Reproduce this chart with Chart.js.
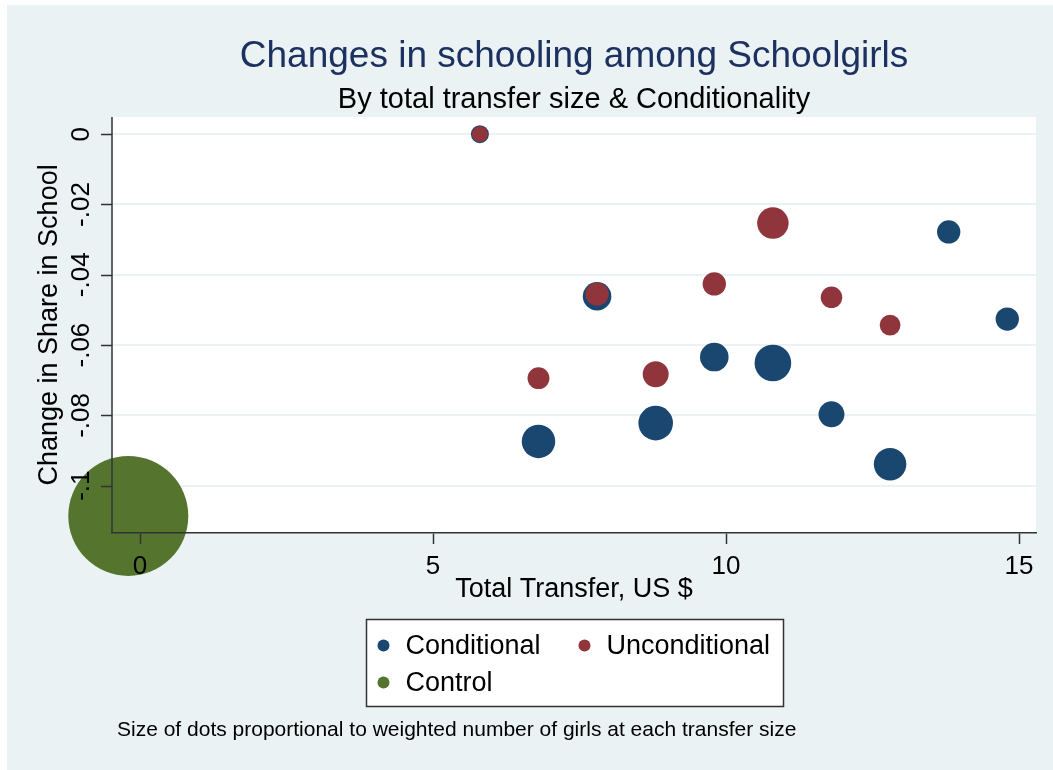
<!DOCTYPE html>
<html>
<head>
<meta charset="utf-8">
<script src="https://cdn.jsdelivr.net/npm/chart.js@4/dist/chart.umd.min.js"></script>
<style>
  body { margin: 0; background: #fff; }
  .chart-container { position: absolute; left: 7px; top: 5px; width: 1046px; height: 765px; background: #eaf2f3; }
</style>
</head>
<body>
<div class="chart-container">
  <canvas id="bubble-chart"></canvas>
</div>
<script>
  // values
  const condTransfer = [5.8, 6.8, 7.8, 8.8, 9.8, 10.8, 11.8, 12.8, 13.8, 14.8];
  const condChange = [0, -0.0874, -0.0461, -0.0822, -0.0634, -0.0651, -0.0797, -0.0939, -0.0278, -0.0526];
  const condGirls = [20, 70, 51, 75, 51, 84, 42, 66, 34, 34];

  const uncondTransfer = [5.8, 6.8, 7.8, 8.8, 9.8, 10.8, 11.8, 12.8];
  const uncondChange = [0, -0.0694, -0.0455, -0.0683, -0.0426, -0.0253, -0.0464, -0.0543];
  const uncondGirls = [16, 30, 34, 42, 34, 62, 29, 27];

  const controlTransfer = [-0.2];
  const controlChange = [-0.1086];
  const controlGirls = [900];

  const xTicks = [0, 5, 10, 15];
  const yTicks = [0, -0.02, -0.04, -0.06, -0.08, -0.1];

  const FONT = "'Liberation Sans', Arial, sans-serif";
  const AXIS = '#333';

  // dot area proportional to weight
  function bubbles(xs, ys, ws) {
    return xs.map((x, i) => ({ x: x, y: ys[i], r: 2 * Math.sqrt(ws[i]) }));
  }

  function yLabel(v) {
    if (v === 0) return '0';
    return String(v).replace('0.', '.');
  }

  const plotBackground = {
    id: 'plotBackground',
    beforeDraw(chart) {
      const { ctx, chartArea: a } = chart;
      ctx.save();
      ctx.fillStyle = '#fff';
      ctx.fillRect(a.left, a.top, a.right - a.left, a.bottom - a.top);
      ctx.restore();
    }
  };

  // y axis line, ticks and rotated labels, drawn over the dots
  const yAxisOverlay = {
    id: 'yAxisOverlay',
    afterDraw(chart) {
      const { ctx, chartArea: a } = chart;
      const y = chart.scales.y;
      ctx.save();
      ctx.strokeStyle = AXIS;
      ctx.lineWidth = 1.5;
      ctx.beginPath();
      ctx.moveTo(a.left, a.top);
      ctx.lineTo(a.left, a.bottom);
      yTicks.forEach(v => {
        const py = Math.round(y.getPixelForValue(v)) + 0.5;
        ctx.moveTo(a.left - 11, py);
        ctx.lineTo(a.left, py);
      });
      ctx.stroke();
      ctx.fillStyle = '#000';
      ctx.font = '26px ' + FONT;
      ctx.textAlign = 'center';
      ctx.textBaseline = 'middle';
      yTicks.forEach(v => {
        ctx.save();
        ctx.translate(a.left - 30, y.getPixelForValue(v));
        ctx.rotate(-Math.PI / 2);
        ctx.fillText(yLabel(v), 0, 0);
        ctx.restore();
      });
      ctx.restore();
    }
  };

  const legendBox = {
    id: 'legendBox',
    afterDraw(chart) {
      const { ctx, chartArea: a } = chart;
      const cx = (a.left + a.right) / 2;
      const left = Math.round(cx - 208.5) + 0.5;
      const top = Math.round(a.bottom + 86) + 0.5;
      ctx.save();
      ctx.fillStyle = '#fff';
      ctx.fillRect(left, top, 417, 87);
      ctx.strokeStyle = AXIS;
      ctx.lineWidth = 1.5;
      ctx.strokeRect(left, top, 417, 87);
      ctx.font = '27px ' + FONT;
      ctx.textBaseline = 'middle';
      chart.data.datasets.forEach((ds, i) => {
        const col = i % 2, row = Math.floor(i / 2);
        const dx = left + 17 + col * 201;
        const dy = top + 26 + row * 37;
        ctx.fillStyle = ds.backgroundColor;
        ctx.beginPath();
        ctx.arc(dx, dy, 6, 0, Math.PI * 2);
        ctx.fill();
        ctx.fillStyle = '#000';
        ctx.fillText(ds.label, dx + 22, dy + 1);
      });
      ctx.font = '21px ' + FONT;
      ctx.fillText('Size of dots proportional to weighted number of girls at each transfer size', a.left + 5, a.bottom + 197);
      ctx.restore();
    }
  };

  const data = {
    datasets: [
      { label: 'Conditional', data: bubbles(condTransfer, condChange, condGirls),
        backgroundColor: '#1a476f', borderWidth: 0, order: 1 },
      { label: 'Unconditional', data: bubbles(uncondTransfer, uncondChange, uncondGirls),
        backgroundColor: '#90353b', borderWidth: 0, order: 0 },
      { label: 'Control', data: bubbles(controlTransfer, controlChange, controlGirls),
        backgroundColor: '#55752f', borderWidth: 0, order: 2, clip: false }
    ]
  };

  const options = {
    responsive: true,
    maintainAspectRatio: false,
    animation: false,
    events: [],
    layout: { autoPadding: false, padding: { left: 0, right: 17, top: 0, bottom: 147 } },
    plugins: {
      legend: { display: false },
      tooltip: { enabled: false },
      title: {
        display: true,
        fullSize: false,
        text: 'Changes in schooling among Schoolgirls',
        color: '#1c3160',
        font: { family: FONT, size: 37, weight: 'normal' },
        padding: { top: 30, bottom: 0 }
      },
      subtitle: {
        display: true,
        fullSize: false,
        text: 'By total transfer size & Conditionality',
        color: '#000',
        font: { family: FONT, size: 29, weight: 'normal', lineHeight: 1.1 },
        padding: { top: 4.6, bottom: 1 }
      }
    },
    scales: {
      x: {
        type: 'linear',
        min: -0.478,
        max: 15.29,
        afterBuildTicks(scale) { scale.ticks = xTicks.map(v => ({ value: v })); },
        afterFit(scale) { scale.height = 90; },
        grid: { z: 1, drawOnChartArea: false, drawTicks: true, tickLength: 11, tickColor: AXIS, tickWidth: 1.5 },
        border: { z: 1, display: true, color: AXIS, width: 1.5 },
        ticks: { z: 1, color: '#000', padding: 7, maxRotation: 0, font: { family: FONT, size: 26 } },
        title: {
          display: true,
          text: 'Total Transfer, US $',
          color: '#000',
          font: { family: FONT, size: 27 },
          padding: { top: 0, bottom: 16.8 }
        }
      },
      y: {
        type: 'linear',
        min: -0.11346,
        max: 0.00492,
        afterBuildTicks(scale) { scale.ticks = yTicks.map(v => ({ value: v })); },
        afterFit(scale) { scale.width = 105; },
        grid: { color: '#eaf2f3', lineWidth: 2, drawTicks: false },
        border: { display: false },
        ticks: { display: false },
        title: {
          display: true,
          text: 'Change in Share in School',
          color: '#000',
          font: { family: FONT, size: 27 },
          padding: { top: 26.8, bottom: 0 }
        }
      }
    }
  };

  new Chart('bubble-chart', {
    type: 'bubble',
    data: data,
    options: options,
    plugins: [plotBackground, yAxisOverlay, legendBox]
  });
</script>
</body>
</html>
